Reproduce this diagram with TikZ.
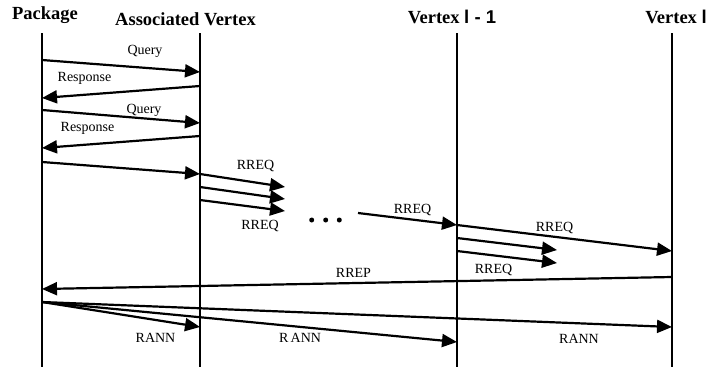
\documentclass[tikz,border=0pt]{standalone}
\usepackage{fontspec}
\setmainfont{Liberation Serif}
\setsansfont{Liberation Sans}
\usetikzlibrary{arrows.meta}

\tikzset{
  lifeline/.style={line width=1.5pt},
  msg/.style={line width=2.2pt, -{Triangle[length=15pt,width=13pt]}},
  title/.style={font=\fontsize{18.5}{20}\selectfont\bfseries, anchor=base, inner sep=0pt},
  lbl/.style={font=\fontsize{14}{16}\selectfont, anchor=base, inner sep=0pt},
  dotmark/.style={fill=black, circle, inner sep=0pt, minimum size=5pt}
}

\begin{document}
\begin{tikzpicture}[x=1pt, y=-1pt]
\useasboundingbox (0,0) rectangle (709,367);

% lifelines
\coordinate (pkgT) at (42,33);   \coordinate (pkgB) at (42,367);
\coordinate (avT)  at (200,33);  \coordinate (avB)  at (200,367);
\coordinate (vmT)  at (457,33);  \coordinate (vmB)  at (457,367);
\coordinate (vlT)  at (672,33);  \coordinate (vlB)  at (672,367);
\draw[lifeline] (pkgT) -- (pkgB);
\draw[lifeline] (avT) -- (avB);
\draw[lifeline] (vmT) -- (vmB);
\draw[lifeline] (vlT) -- (vlB);

% headers
\node[title] (hpkg) at (45,19) {Package};
\node[title] (hav)  at (185.5,25) {Associated Vertex};
\node[title] (hvm)  at (452,23) {Vertex {\sffamily l - 1}};
\node[title] (hvl)  at (676,23) {Vertex {\sffamily l}};

% message end points
\coordinate (q1a) at (42,60);   \coordinate (q1b) at (200,72);
\coordinate (r1a) at (200,86);  \coordinate (r1b) at (42,98);
\coordinate (q2a) at (42,110);  \coordinate (q2b) at (200,123);
\coordinate (r2a) at (200,136); \coordinate (r2b) at (42,148);
\coordinate (s0a) at (42,162);  \coordinate (s0b) at (200,174);
\coordinate (f1a) at (200,174); \coordinate (f1b) at (285,187);
\coordinate (f2a) at (200,187); \coordinate (f2b) at (285,199);
\coordinate (f3a) at (200,200); \coordinate (f3b) at (285,211);
\coordinate (m1a) at (358,213); \coordinate (m1b) at (457,225);
\coordinate (m2a) at (457,225); \coordinate (m2b) at (672,251);
\coordinate (g1a) at (457,238); \coordinate (g1b) at (557,250);
\coordinate (g2a) at (457,251); \coordinate (g2b) at (557,263);
\coordinate (rpa) at (672,277); \coordinate (rpb) at (42,289);
\coordinate (ra0) at (42,302);
\coordinate (ra1) at (200,327);
\coordinate (ra2) at (457,342);
\coordinate (ra3) at (672,327);

% query / response exchange
\draw[msg] (q1a) -- (q1b);
\draw[msg] (r1a) -- (r1b);
\draw[msg] (q2a) -- (q2b);
\draw[msg] (r2a) -- (r2b);
\draw[msg] (s0a) -- (s0b);

% route request flood
\draw[msg] (f1a) -- (f1b);
\draw[msg] (f2a) -- (f2b);
\draw[msg] (f3a) -- (f3b);
\draw[msg] (m1a) -- (m1b);
\draw[msg] (m2a) -- (m2b);
\draw[msg] (g1a) -- (g1b);
\draw[msg] (g2a) -- (g2b);

% route reply
\draw[msg] (rpa) -- (rpb);

% route announcements
\draw[msg] (ra0) -- (ra1);
\draw[msg] (ra0) -- (ra2);
\draw[msg] (ra0) -- (ra3);

% ellipsis
\node[dotmark] (d1) at (311.7,220) {};
\node[dotmark] (d2) at (325.7,220) {};
\node[dotmark] (d3) at (339.3,220) {};

% labels
\node[lbl] (lq1) at (145,54.5) {Query};
\node[lbl] (lr1) at (84.5,81.5) {Response};
\node[lbl] (lq2) at (144,113.5) {Query};
\node[lbl] (lr2) at (87.5,131.5) {Response};
\node[lbl] (ls0) at (255.5,169.5) {RREQ};
\node[lbl] (lf3) at (260,229.5) {RREQ};
\node[lbl] (lm1) at (412.5,213.5) {RREQ};
\node[lbl] (lm2) at (554.5,231.5) {RREQ};
\node[lbl] (lg2) at (493.5,273.5) {RREQ};
\node[lbl] (lrp) at (353.5,277) {RREP};
\node[lbl] (la1) at (155.5,342) {RANN};
\node[lbl] (la2) at (300,342) {R\,ANN};
\node[lbl] (la3) at (579,343.5) {RANN};
\end{tikzpicture}
\end{document}
